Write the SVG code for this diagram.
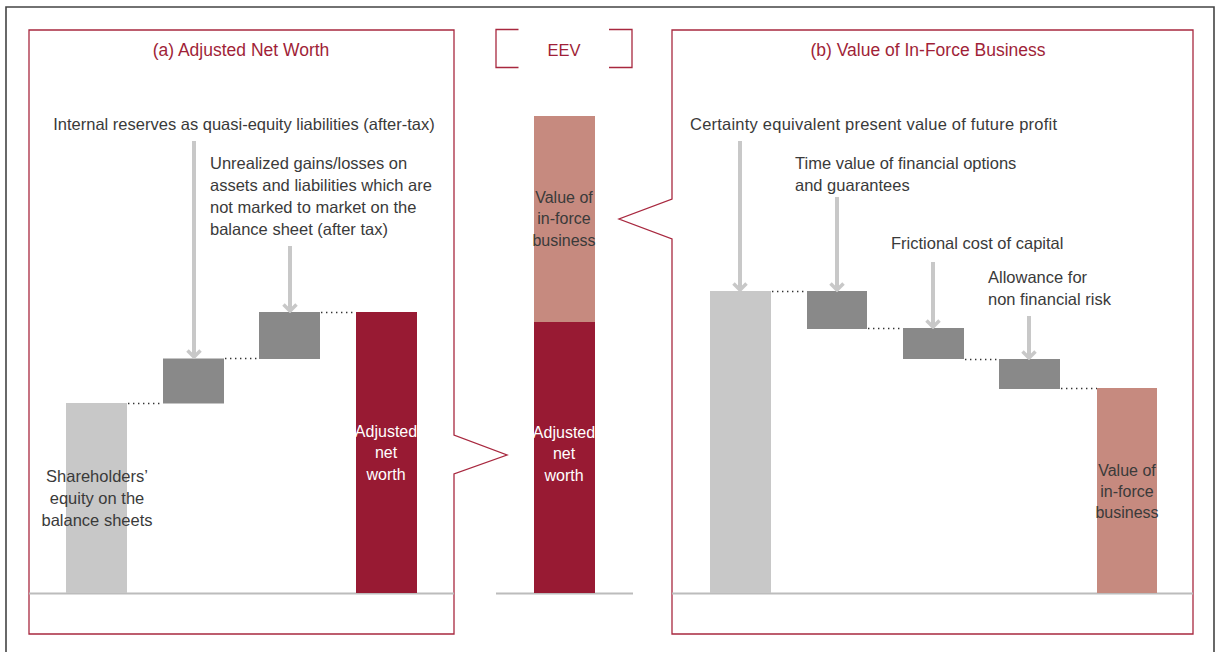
<svg xmlns="http://www.w3.org/2000/svg" width="1218" height="652" viewBox="0 0 1218 652">
<style>
.frame{fill:none;stroke:#a8283f;stroke-width:1.3}
.title{font-family:"Liberation Sans",Arial,sans-serif;font-size:17.5px;fill:#a01f38;text-anchor:middle}
.t{font-family:"Liberation Sans",Arial,sans-serif;font-size:16.5px;fill:#3a3a3a}
.b{font-size:16px}
.c{text-anchor:middle}
.w{fill:#ffffff}
.base{stroke:#bcbcbc;stroke-width:2}
.dot{stroke:#333;stroke-width:1.4;stroke-dasharray:1.4 3.6;fill:none}
.arr{stroke:#c8c8c8;stroke-width:4;fill:none}
.light{fill:#c8c8c8}
.dark{fill:#898989}
.red{fill:#981a33}
.pink{fill:#c68a7f}
</style>
<defs>
<marker id="chev" markerUnits="userSpaceOnUse" viewBox="0 0 16 16" markerWidth="16" markerHeight="16" refX="14" refY="8" orient="auto">
<path d="M7.5,1.5 L14,8 L7.5,14.5" fill="none" stroke="#c8c8c8" stroke-width="3.5"/>
</marker>
</defs>
<rect width="1218" height="652" fill="#fff"/>
<path d="M6,660 V7 H1214 V660" fill="none" stroke="#444" stroke-width="1.6"/>

<g id="panel-a">
<path class="frame" d="M29,30 H454 V435 L507,455 L454,474 V634 H29 Z"/>
<text class="title" x="241" y="56">(a) Adjusted Net Worth</text>
<line class="base" x1="29" y1="593.5" x2="454" y2="593.5"/>
</g>

<g id="panel-eev">
<path class="frame" d="M518.5,29.5 H496 V67.5 H518.5 M609,29.5 H632 V67.5 H609"/>
<text class="title" x="564" y="56" style="font-size:16.5px">EEV</text>
<line class="base" x1="496" y1="593.5" x2="633" y2="593.5"/>
</g>

<g id="panel-b">
<path class="frame" d="M672,30 H1193 V634 H672 V239 L619,219 L672,199 Z"/>
<text class="title" x="928" y="56">(b) Value of In-Force Business</text>
<line class="base" x1="672" y1="593.5" x2="1193" y2="593.5"/>
</g>

<g id="bar-equity">
<rect class="light" x="66" y="403" width="61" height="190"/>
<text class="t c" x="97" y="482">Shareholders’</text>
<text class="t c" x="97" y="504">equity on the</text>
<text class="t c" x="97" y="526">balance sheets</text>
</g>

<g id="step-internal-reserves">
<rect class="dark" x="163" y="358.5" width="61" height="45"/>
<text class="t c" x="244" y="130">Internal reserves as quasi-equity liabilities (after-tax)</text>
</g>

<g id="step-unrealized">
<rect class="dark" x="259" y="312" width="61" height="47"/>
<text class="t" x="210" y="169">Unrealized gains/losses on</text>
<text class="t" x="210" y="191">assets and liabilities which are</text>
<text class="t" x="210" y="213">not marked to market on the</text>
<text class="t" x="210" y="235">balance sheet (after tax)</text>
</g>

<g id="bar-anw">
<rect class="red" x="356" y="312" width="61" height="281"/>
<text class="t b c w" x="386" y="437">Adjusted</text>
<text class="t b c w" x="386" y="458">net</text>
<text class="t b c w" x="386" y="480">worth</text>
</g>

<g id="bar-eev">
<rect class="pink" x="534" y="116" width="61" height="206"/>
<rect class="red" x="534" y="322" width="61" height="271"/>
<text class="t b c" x="564" y="203">Value of</text>
<text class="t b c" x="564" y="224">in-force</text>
<text class="t b c" x="564" y="246">business</text>
<text class="t b c w" x="564" y="438">Adjusted</text>
<text class="t b c w" x="564" y="459">net</text>
<text class="t b c w" x="564" y="481">worth</text>
</g>

<g id="bar-cepv">
<rect class="light" x="710" y="291" width="61" height="302"/>
<text class="t" x="690" y="130" textLength="367" lengthAdjust="spacing">Certainty equivalent present value of future profit</text>
</g>

<g id="step-tvfog">
<rect class="dark" x="807" y="291" width="60" height="38"/>
<text class="t" x="795" y="169">Time value of financial options</text>
<text class="t" x="795" y="191">and guarantees</text>
</g>

<g id="step-fcc">
<rect class="dark" x="903" y="328" width="61" height="31"/>
<text class="t" x="891" y="249">Frictional cost of capital</text>
</g>

<g id="step-nfr">
<rect class="dark" x="999" y="359" width="61" height="30"/>
<text class="t" x="988" y="283">Allowance for</text>
<text class="t" x="988" y="305">non financial risk</text>
</g>

<g id="bar-vif">
<rect class="pink" x="1097" y="388" width="60" height="205"/>
<text class="t b c" x="1127" y="476">Value of</text>
<text class="t b c" x="1127" y="497">in-force</text>
<text class="t b c" x="1127" y="518">business</text>
</g>

<g id="connectors">
<line class="dot" x1="128" y1="403.5" x2="163" y2="403.5"/>
<line class="dot" x1="225" y1="358.5" x2="259" y2="358.5"/>
<line class="dot" x1="321" y1="312.5" x2="356" y2="312.5"/>
<line class="dot" x1="772" y1="291.5" x2="807" y2="291.5"/>
<line class="dot" x1="868" y1="328.5" x2="903" y2="328.5"/>
<line class="dot" x1="965" y1="359.5" x2="999" y2="359.5"/>
<line class="dot" x1="1061" y1="388.5" x2="1097" y2="388.5"/>
<line class="arr" x1="194" y1="141" x2="194" y2="357" marker-end="url(#chev)"/>
<line class="arr" x1="290" y1="246" x2="290" y2="311" marker-end="url(#chev)"/>
<line class="arr" x1="740" y1="141" x2="740" y2="290" marker-end="url(#chev)"/>
<line class="arr" x1="837" y1="197" x2="837" y2="290" marker-end="url(#chev)"/>
<line class="arr" x1="933" y1="262" x2="933" y2="327" marker-end="url(#chev)"/>
<line class="arr" x1="1029" y1="316" x2="1029" y2="358" marker-end="url(#chev)"/>
</g>
</svg>
